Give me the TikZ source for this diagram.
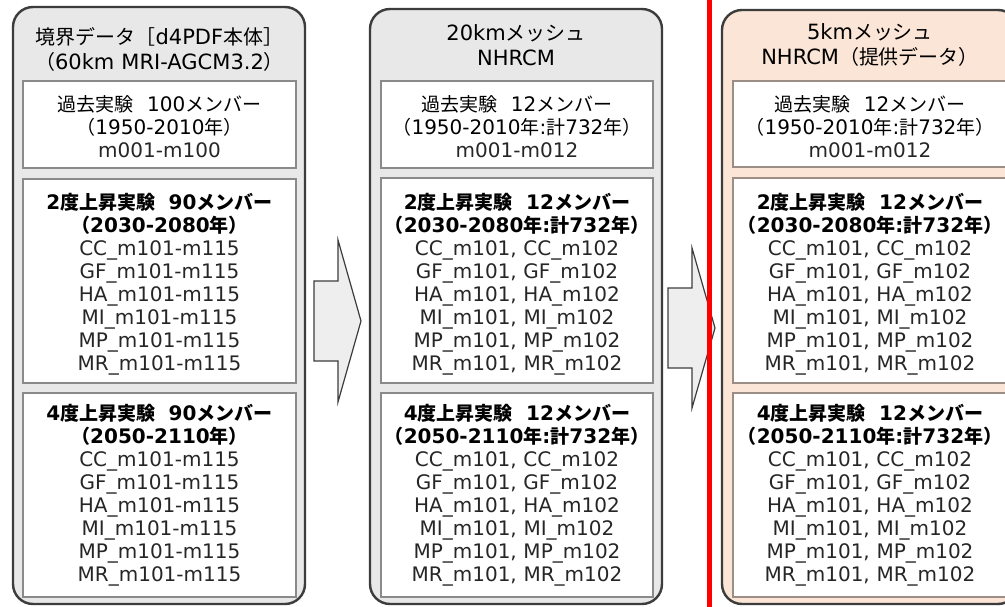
\documentclass[tikz,border=0pt]{standalone}
\usepackage{fontspec}
\setmainfont{DejaVu Sans}
\newfontfamily\jpfont{Noto Sans CJK JP}[Scale=0.95]
\newcommand\jp[1]{{\jpfont #1}}
\definecolor{panelgray}{HTML}{E8E8E8}
\definecolor{panelpeach}{HTML}{FBE5D6}
\definecolor{outlinec}{HTML}{3C3C3C}
\definecolor{inlinec}{HTML}{8A8A8A}
\definecolor{inlinep}{HTML}{9C8E84}
\definecolor{txtgray}{HTML}{262626}
\definecolor{arrowfill}{HTML}{EEEEEE}
\tikzset{
  panel/.style={draw=outlinec, line width=2.4pt, rounded corners=20pt, inner sep=0pt},
  inbox/.style={draw=inlinec, line width=1.6pt, fill=white, inner sep=0pt},
  txt/.style={inner sep=0pt, align=center, text width=290pt, font=\fontsize{20}{23}\selectfont, text=txtgray},
  ttl/.style={txt, font=\fontsize{21}{25}\selectfont, text=black},
  blockarrow/.style={draw=outlinec, line width=1.2pt, fill=arrowfill, line join=miter},
}
\newcommand\hd[1]{{\bfseries\color{black}#1}}
\newcommand\hr[1]{{\color{black}#1}}
\newcommand\memwide{CC\_m101-m115\\GF\_m101-m115\\HA\_m101-m115\\MI\_m101-m115\\MP\_m101-m115\\MR\_m101-m115}
\newcommand\mempair{CC\_m101, CC\_m102\\GF\_m101, GF\_m102\\HA\_m101, HA\_m102\\MI\_m101, MI\_m102\\MP\_m101, MP\_m102\\MR\_m101, MR\_m102}
\begin{document}
\begin{tikzpicture}[x=1pt,y=-1pt]
\useasboundingbox (0,0) rectangle (1005,607);
\fill[white] (0,0) rectangle (1005,607);
% ---------- panels ----------
\node[panel, fill=panelgray, minimum width=292, minimum height=597] (P1) at (159,305.5) {};
\node[panel, fill=panelgray, minimum width=292, minimum height=595] (P2) at (516,306.5) {};
\node[panel, fill=panelpeach, minimum width=296, minimum height=594] (P3) at (870,307) {};
% ---------- inner boxes: left ----------
\node[inbox, minimum width=273, minimum height=87] (L1) at (159.5,124.5) {};
\node[inbox, minimum width=273, minimum height=204] (L2) at (159.5,281) {};
\node[inbox, minimum width=273, minimum height=204] (L3) at (159.5,495) {};
% middle
\node[inbox, minimum width=272, minimum height=87] (M1) at (517,124.5) {};
\node[inbox, minimum width=272, minimum height=205] (M2) at (517,280.5) {};
\node[inbox, minimum width=272, minimum height=204] (M3) at (517,495) {};
% right
\node[inbox, draw=inlinep, minimum width=274, minimum height=86] (R1) at (870,124) {};
\node[inbox, draw=inlinep, minimum width=274, minimum height=205] (R2) at (870,280.5) {};
\node[inbox, draw=inlinep, minimum width=274, minimum height=204] (R3) at (870,495) {};
% ---------- titles ----------
\node[ttl] (T1) at (159.5,49) {\jp{境界データ［}d4PDF\jp{本体］}\\\jp{（}60km MRI-AGCM3.2\jp{）}};
\node[ttl] (T2) at (516,45.5) {20km\jp{メッシュ}\\NHRCM};
\node[ttl] (T3) at (870,45) {5km\jp{メッシュ}\\NHRCM\jp{（提供データ）}};
% ---------- texts: left ----------
\node[txt] (L1t) at (159.5,127) {\hr{\jp{過去実験}~~100\jp{メンバー}}\\\hr{\jp{（}1950-2010\jp{年）}}\\m001-m100};
\node[txt] (L2t) at (159.5,284) {\hd{2\jp{度上昇実験}~~90\jp{メンバー}}\\\hd{\jp{（}2030-2080\jp{年）}}\\\memwide};
\node[txt] (L3t) at (159.5,495) {\hd{4\jp{度上昇実験}~~90\jp{メンバー}}\\\hd{\jp{（}2050-2110\jp{年）}}\\\memwide};
% middle
\node[txt] (M1t) at (517,127) {\hr{\jp{過去実験}~~12\jp{メンバー}}\\\hr{\jp{（}1950-2010\jp{年}:\jp{計}732\jp{年）}}\\m001-m012};
\node[txt] (M2t) at (517,284) {\hd{2\jp{度上昇実験}~~12\jp{メンバー}}\\\hd{\jp{（}2030-2080\jp{年}:\jp{計}732\jp{年）}}\\\mempair};
\node[txt] (M3t) at (517,495) {\hd{4\jp{度上昇実験}~~12\jp{メンバー}}\\\hd{\jp{（}2050-2110\jp{年}:\jp{計}732\jp{年）}}\\\mempair};
% right
\node[txt] (R1t) at (870,127) {\hr{\jp{過去実験}~~12\jp{メンバー}}\\\hr{\jp{（}1950-2010\jp{年}:\jp{計}732\jp{年）}}\\m001-m012};
\node[txt] (R2t) at (870,284) {\hd{2\jp{度上昇実験}~~12\jp{メンバー}}\\\hd{\jp{（}2030-2080\jp{年}:\jp{計}732\jp{年）}}\\\mempair};
\node[txt] (R3t) at (870,495) {\hd{4\jp{度上昇実験}~~12\jp{メンバー}}\\\hd{\jp{（}2050-2110\jp{年}:\jp{計}732\jp{年）}}\\\mempair};
% ---------- block arrows ----------
\draw[blockarrow] (314,281) -- (338,281) -- (338,240) -- (361,321) -- (338,402) -- (338,361) -- (314,361) -- cycle;
\draw[blockarrow] (668,288) -- (692,288) -- (692,248) -- (715,328) -- (692,408) -- (692,368) -- (668,368) -- cycle;
% ---------- red line ----------
\draw[red, line width=5pt] (709.5,0) -- (709.5,607);
\end{tikzpicture}
\end{document}
